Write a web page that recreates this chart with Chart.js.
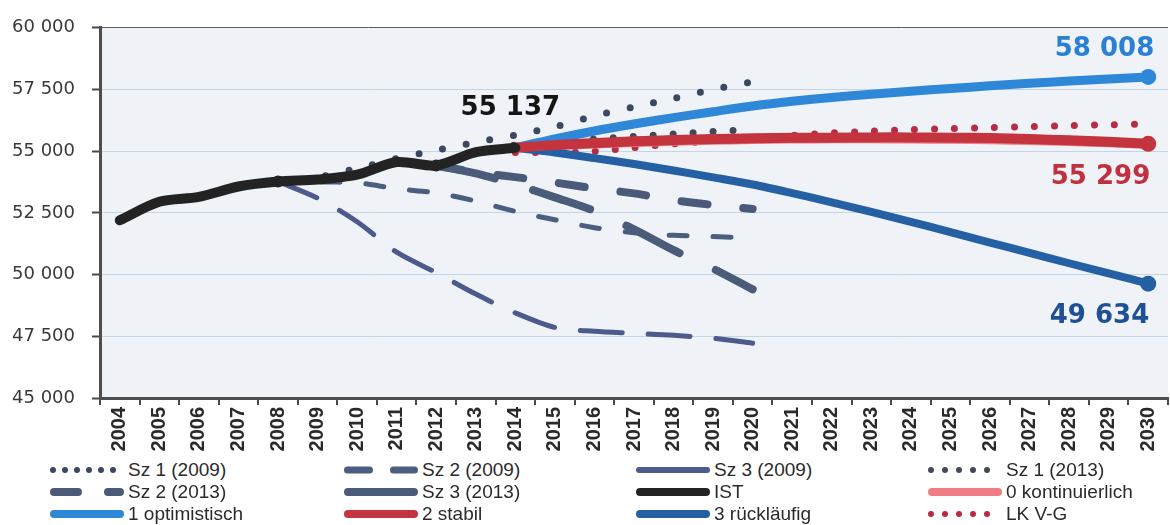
<!DOCTYPE html>
<html>
<head>
<meta charset="utf-8">
<script src="https://cdn.jsdelivr.net/npm/chart.js@4.4.1/dist/chart.umd.min.js"></script>
<style>
  html, body { margin: 0; padding: 0; background: #fff; overflow: hidden; }
  #wrap { position: relative; width: 1170px; height: 525px; overflow: hidden; }
  #chartBox { position: absolute; left: 0; top: 0; width: 1176px; height: 455px; }
  #legend {
    position: absolute; left: 50px; top: 459px;
    display: grid; grid-template-columns: 294px 292px 292px 240px; grid-auto-rows: 22px;
    font: 19px "Liberation Sans", Arial, sans-serif; color: #2b2b2b;
  }
  .item { display: flex; align-items: center; white-space: nowrap; }
  .item canvas { width: 74px; height: 16px; margin-right: 4px; }
</style>
</head>
<body>
<div id="wrap">
  <div id="chartBox"><canvas id="chart"></canvas></div>
  <div id="legend"></div>
</div>
<script>
const years = ['2004', '2005', '2006', '2007', '2008', '2009', '2010', '2011', '2012', '2013', '2014', '2015', '2016',
  '2017', '2018', '2019', '2020', '2021', '2022', '2023', '2024', '2025', '2026', '2027', '2028', '2029', '2030'];
const yTicks = [45000, 47500, 50000, 52500, 55000, 57500, 60000];

// IST 2004-2014
const ist = [52200, 52950, 53150, 53570, 53770, 53850, 54050, 54560, 54420, 54960, 55137];
// 2009 scenarios, 2008-2020
const sz1_2009 = [53770, 53950, 54300, 54700, 55040, 55360, 55650, 55990, 56430, 56790, 57140, 57500, 57820];
const sz2_2009 = [53770, 53750, 53720, 53480, 53310, 52980, 52560, 52220, 51900, 51700, 51590, 51540, 51480];
const sz3_2009 = [53770, 53100, 52140, 50910, 50080, 49210, 48450, 47860, 47700, 47620, 47540, 47420, 47220];
// 2013 scenarios, 2012-2020
const sz1_2013 = [54420, 54900, 55250, 55400, 55500, 55600, 55700, 55800, 55880];
const sz2_2013 = [54420, 54150, 53950, 53730, 53490, 53290, 53020, 52820, 52660];
const sz3_2013 = [54420, 54100, 53650, 53130, 52580, 51830, 50990, 50240, 49400];
// current projections, 2014-2030
const kontinuierlich = [55137, 55220, 55290, 55350, 55400, 55440, 55470, 55490, 55500, 55500, 55490, 55480, 55460, 55430, 55390, 55340, 55280];
const optimistisch = [55137, 55500, 55820, 56100, 56360, 56600, 56830, 57020, 57180, 57310, 57430, 57540, 57650, 57750, 57840, 57930, 58008];
const stabil = [55137, 55250, 55330, 55400, 55450, 55490, 55520, 55540, 55550, 55560, 55560, 55550, 55530, 55490, 55440, 55380, 55299];
const ruecklaeufig = [55137, 54950, 54720, 54480, 54220, 53940, 53650, 53300, 52930, 52540, 52140, 51720, 51300, 50880, 50460, 50050, 49634];
const lkVG = [54950, 54950, 55000, 55150, 55300, 55420, 55530, 55640, 55740, 55810, 55870, 55920, 55960, 56000, 56040, 56070, 56100];

function fromYear(start, values) {
  return values.map((v, i) => ({ x: String(start + i), y: v }));
}

function fmt(v) {
  return String(v).replace(/\B(?=(\d{3})+(?!\d))/g, ' ');
}

function lastDot(r) {
  return ctx => (ctx.dataIndex === ctx.dataset.data.length - 1 ? r : 0);
}

const datasets = [
  { label: 'Sz 1 (2009)', data: fromYear(2008, sz1_2009), borderColor: '#3c4862', borderWidth: 7, borderDash: [0, 24], order: 7, legendDash: [0, 12], legendWidth: 6 },
  { label: 'Sz 2 (2009)', data: fromYear(2008, sz2_2009), borderColor: '#4b5e80', borderWidth: 5, borderDash: [18, 26], order: 10, legendDash: [22, 24], legendWidth: 7 },
  { label: 'Sz 3 (2009)', data: fromYear(2008, sz3_2009), borderColor: '#4d5a8c', borderWidth: 5, borderDash: [42, 26], order: 11, legendDash: [], legendWidth: 6 },
  { label: 'Sz 1 (2013)', data: fromYear(2012, sz1_2013), borderColor: '#434957', borderWidth: 7, borderDash: [0, 20], order: 6, legendDash: [0, 14], legendWidth: 6 },
  { label: 'Sz 2 (2013)', data: fromYear(2012, sz2_2013), borderColor: '#4a5a78', borderWidth: 8, borderDash: [26, 36], order: 9, legendDash: [24, 30] },
  { label: 'Sz 3 (2013)', data: fromYear(2012, sz3_2013), borderColor: '#4b5b7a', borderWidth: 8, borderDash: [60, 40], order: 8, legendDash: [] },
  { label: 'IST', data: fromYear(2004, ist), borderColor: '#232323', borderWidth: 10, order: 0,
    pointRadius: [0, 0, 0, 0, 6, 0, 0, 0, 6, 0, 0], pointBackgroundColor: '#232323', pointBorderWidth: 0,
    endLabel: { color: '#151515', dx: -5, dy: -40, align: 'center' } },
  { label: '0 kontinuierlich', data: fromYear(2014, kontinuierlich), borderColor: '#f27c84', borderWidth: 9, order: 4 },
  { label: '1 optimistisch', data: fromYear(2014, optimistisch), borderColor: '#2f87d7', borderWidth: 9, order: 2,
    pointRadius: lastDot(8), pointBackgroundColor: '#2f87d7', pointBorderWidth: 0,
    endLabel: { color: '#2a80d2', dx: 6, dy: -28, align: 'right' } },
  { label: '2 stabil', data: fromYear(2014, stabil), borderColor: '#c3343f', borderWidth: 10, order: 1,
    pointRadius: lastDot(8), pointBackgroundColor: '#c3343f', pointBorderWidth: 0,
    endLabel: { color: '#c0303e', dx: 2, dy: 33, align: 'right' } },
  { label: '3 rückläufig', data: fromYear(2014, ruecklaeufig), borderColor: '#2560a4', borderWidth: 8, order: 3,
    pointRadius: lastDot(8), pointBackgroundColor: '#2560a4', pointBorderWidth: 0,
    endLabel: { color: '#1f5096', dx: 1, dy: 33, align: 'right' } },
  { label: 'LK V-G', data: fromYear(2014, lkVG), borderColor: '#b92b42', borderWidth: 7, borderDash: [0, 20], order: 5, legendDash: [0, 14], legendWidth: 6 }
];

datasets.forEach(ds => {
  ds.fill = false;
  ds.tension = 0.3;
  ds.borderCapStyle = 'round';
  ds.borderJoinStyle = 'round';
  if (ds.pointRadius === undefined) ds.pointRadius = 0;
  ds.pointHoverRadius = 0;
});

// light plot background
const plotBg = {
  id: 'plotBg',
  beforeDraw(chart) {
    const { ctx, chartArea: a } = chart;
    ctx.save();
    ctx.fillStyle = '#eff3f8';
    ctx.fillRect(a.left, a.top, a.right - a.left, a.bottom - a.top);
    ctx.restore();
  }
};

// value labels at the series ends
const endLabels = {
  id: 'endLabels',
  afterDatasetsDraw(chart) {
    const ctx = chart.ctx;
    chart.data.datasets.forEach((ds, i) => {
      if (!ds.endLabel) return;
      const meta = chart.getDatasetMeta(i);
      const pt = meta.data[meta.data.length - 1];
      const value = ds.data[ds.data.length - 1].y;
      ctx.save();
      ctx.font = 'bold 26px "DejaVu Sans", sans-serif';
      ctx.fillStyle = ds.endLabel.color;
      ctx.textAlign = ds.endLabel.align;
      ctx.textBaseline = 'middle';
      ctx.fillText(fmt(value), pt.x + ds.endLabel.dx, pt.y + ds.endLabel.dy);
      ctx.restore();
    });
  }
};

const chart = new Chart(document.getElementById('chart'), {
  type: 'line',
  data: { labels: years, datasets: datasets },
  options: {
    responsive: true,
    maintainAspectRatio: false,
    animation: false,
    layout: { padding: { top: 20, right: 0, left: 0, bottom: 0 } },
    plugins: { legend: { display: false }, tooltip: { enabled: false } },
    scales: {
      x: {
        type: 'category',
        offset: true,
        afterFit(scale) { scale.height = 57; },
        grid: { offset: true, drawOnChartArea: false, drawTicks: true, tickLength: 7, color: '#4a4a4a', lineWidth: 2 },
        border: { display: true, color: '#4e4e4e', width: 3 },
        ticks: {
          autoSkip: false, minRotation: 90, maxRotation: 90, padding: 2,
          color: '#2a2a2a', font: { family: '"Liberation Sans", Arial, sans-serif', size: 20, weight: 'bold' }
        }
      },
      y: {
        min: 45000, max: 60000,
        afterFit(scale) { scale.width = 100; },
        afterBuildTicks(scale) { scale.ticks = yTicks.map(v => ({ value: v })); },
        grid: {
          color: ctx => (ctx.tick && ctx.tick.value === 60000 ? '#5a5a5a' : '#c3d6e6'),
          lineWidth: 1, tickLength: 8, tickColor: '#4a4a4a', tickWidth: 2
        },
        border: { display: true, color: '#4e4e4e', width: 3 },
        ticks: {
          padding: 17, color: '#3a3a3a',
          font: { family: '"DejaVu Sans", sans-serif', size: 18 },
          callback: v => fmt(v)
        }
      }
    }
  },
  plugins: [plotBg, endLabels]
});

// legend in four columns, built from the datasets
const legendEl = document.getElementById('legend');
chart.data.datasets.forEach(ds => {
  const item = document.createElement('div');
  item.className = 'item';
  const c = document.createElement('canvas');
  c.width = 74; c.height = 16;
  const g = c.getContext('2d');
  const w = ds.legendWidth || Math.min(ds.borderWidth, 8);
  g.strokeStyle = ds.borderColor;
  g.lineWidth = w;
  g.lineCap = 'round';
  g.setLineDash(ds.legendDash || []);
  g.beginPath();
  g.moveTo(w / 2, 8);
  g.lineTo(74 - w / 2, 8);
  g.stroke();
  const span = document.createElement('span');
  span.textContent = ds.label;
  item.appendChild(c);
  item.appendChild(span);
  legendEl.appendChild(item);
});
</script>
</body>
</html>
